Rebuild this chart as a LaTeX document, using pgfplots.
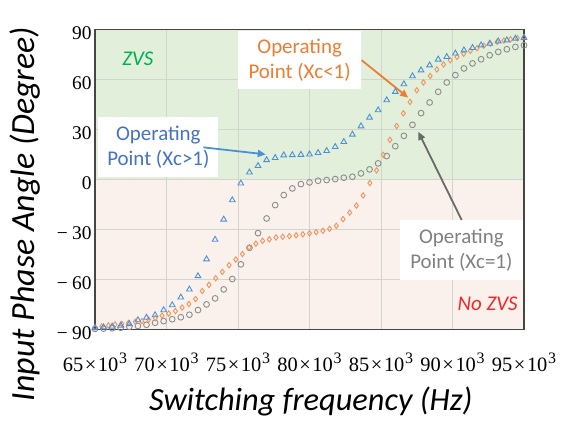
\documentclass[border=0pt]{standalone}
\usepackage{pgfplots}
\pgfplotsset{compat=1.18}
\usepackage{pgfplotstable}
\usepackage{fontspec}
\setmainfont{Carlito}
\newfontfamily\tickfont{Liberation Serif}
\usetikzlibrary{arrows.meta}

\definecolor{zvsbg}{RGB}{226,239,218}
\definecolor{nozvsbg}{RGB}{251,241,236}
\definecolor{gridc}{RGB}{208,214,203}
\definecolor{xcgt}{RGB}{74,144,217}
\definecolor{xcgttext}{RGB}{68,114,196}
\definecolor{xclt}{RGB}{241,146,90}
\definecolor{xclttext}{RGB}{237,125,49}
\definecolor{xceq}{RGB}{140,140,140}
\definecolor{xceqtext}{RGB}{128,128,128}
\definecolor{xceqarrow}{RGB}{105,105,105}
\definecolor{zvsgreen}{RGB}{0,176,80}
\definecolor{nozvsred}{RGB}{240,40,40}
\definecolor{framec}{RGB}{70,70,70}

% frequency tick label: <n>x10^3
\newcommand{\kf}[1]{#1\hspace{0.08em}×\hspace{0.08em}10\kern0.04em\raisebox{0.42em}{\fontsize{16}{16}\selectfont 3}}

% Phase angle vs switching frequency (kHz), Xc > 1
\pgfplotstableread{
f phase
65.0 -89.0
65.6 -88.6
66.2 -88.1
66.8 -87.5
67.4 -86.6
68.0 -84.3
68.6 -82.8
69.2 -81.3
69.8 -78.3
70.4 -75.3
71.0 -70.7
71.6 -65.9
72.2 -57.9
72.8 -47.8
73.4 -36.1
74.0 -24.0
74.6 -12.4
75.2 -2.4
75.8 4.2
76.4 8.1
77.0 11.6
77.6 12.9
78.2 14.5
78.8 14.6
79.4 14.8
80.0 15.0
80.6 15.9
81.2 17.1
81.8 19.5
82.4 22.5
83.0 26.9
83.6 31.9
84.2 37.1
84.8 41.5
85.4 47.5
86.0 52.5
86.6 57.1
87.2 61.9
87.8 65.4
88.4 68.4
89.0 71.9
89.6 73.4
90.2 75.5
90.8 77.4
91.4 78.8
92.0 80.4
92.6 81.4
93.2 82.8
93.8 83.4
94.4 84.4
95.0 84.8
}\xcgreater

% Xc = 1
\pgfplotstableread{
f phase
65.0 -89.6
65.6 -89.4
66.2 -89.2
66.8 -88.9
67.4 -88.3
68.0 -87.8
68.6 -87.1
69.2 -85.9
69.8 -84.9
70.4 -83.8
71.0 -82.6
71.6 -81.1
72.2 -78.3
72.8 -74.9
73.4 -71.3
74.0 -65.9
74.6 -59.7
75.2 -50.9
75.8 -41.0
76.4 -32.2
77.0 -23.4
77.6 -15.4
78.2 -9.4
78.8 -5.4
79.4 -2.8
80.0 -1.8
80.6 -0.8
81.2 -0.4
81.8 0.2
82.4 1.0
83.0 1.6
83.6 3.6
84.2 6.0
84.8 9.6
85.4 14.0
86.0 19.9
86.6 26.1
87.2 32.7
87.8 39.7
88.4 46.1
89.0 52.5
89.6 58.1
90.2 62.5
90.8 66.5
91.4 69.5
92.0 72.0
92.6 74.4
93.2 76.4
93.8 78.0
94.4 79.4
95.0 80.4
}\xcequal

% Xc < 1
\pgfplotstableread{
f phase
65.000 -88.7
65.469 -88.1
65.938 -87.5
66.406 -86.9
66.875 -86.6
67.344 -86.0
67.813 -85.3
68.281 -84.9
68.750 -84.0
69.219 -83.1
69.688 -81.6
70.156 -80.4
70.625 -78.9
71.094 -76.8
71.563 -74.7
72.031 -71.7
72.500 -66.9
72.969 -63.2
73.438 -59.2
73.906 -55.4
74.375 -51.4
74.844 -48.0
75.313 -44.7
75.781 -40.8
76.250 -38.5
76.719 -36.8
77.188 -35.9
77.656 -34.8
78.125 -34.4
78.594 -34.0
79.063 -33.5
79.531 -32.9
80.000 -32.3
80.469 -31.6
80.938 -30.8
81.406 -29.6
81.875 -27.8
82.344 -23.8
82.813 -19.9
83.281 -15.7
83.750 -9.6
84.219 -2.2
84.688 5.4
85.156 14.7
85.625 23.7
86.094 32.0
86.563 39.6
87.031 46.4
87.500 53.4
87.969 58.1
88.438 62.0
88.906 65.9
89.375 68.9
89.844 71.4
90.313 73.4
90.781 75.3
91.250 77.1
91.719 78.6
92.188 80.1
92.656 81.3
93.125 82.4
93.594 83.2
94.063 84.0
94.531 84.6
95.000 85.2
}\xcless

\begin{document}
\begin{tikzpicture}
\begin{axis}[
  set layers,
  scale only axis,
  width=429bp, height=300.4bp,
  xmin=65, xmax=95, ymin=-90, ymax=90,
  xtick={65,70,...,95},
  ytick={-90,-60,...,90},
  xticklabels={\kf{65},\kf{70},\kf{75},\kf{80},\kf{85},\kf{90},\kf{95}},
  yticklabels={−\hspace{0.22em}90,−\hspace{0.22em}60,−\hspace{0.22em}30,0,30,60,90},
  major tick length=0pt,
  tick label style={font=\tickfont\fontsize{19.5}{19.5}\selectfont, text=black},
  xticklabel style={font=\tickfont\fontsize{20.5}{20.5}\selectfont, anchor=base, yshift=-42bp},
  yticklabel style={yshift=-4bp},
  grid=major,
  major grid style={gridc, line width=0.8pt},
  axis line style={framec, line width=1.2pt},
  xlabel={Switching frequency (Hz)},
  ylabel={Input Phase Angle (Degree)},
  xlabel style={font=\itshape\fontsize{32.5}{32.5}\selectfont, text=black,
                at={(axis description cs:0.503,-0.268)}, anchor=base},
  ylabel style={font=\itshape\fontsize{34}{34}\selectfont, text=black,
                at={(axis description cs:-0.14,0.385)}, anchor=base},
  clip=false,
]
\begin{pgfonlayer}{axis background}
  \fill[zvsbg] (axis cs:65,0) rectangle (axis cs:95,90);
  \fill[nozvsbg] (axis cs:65,-90) rectangle (axis cs:95,0);
\end{pgfonlayer}

\addplot[only marks, mark=o, mark size=2.9pt, draw=xceq, mark options={line width=0.9pt}]
  table[x=f, y=phase] {\xcequal};
\addplot[only marks, mark=diamond, mark size=2.7pt, draw=xclt, mark options={line width=0.9pt}]
  table[x=f, y=phase] {\xcless};
\addplot[only marks, mark=triangle, mark size=3.3pt, draw=xcgt, mark options={line width=0.9pt}]
  table[x=f, y=phase] {\xcgreater};

\node[font=\itshape\fontsize{21}{21}\selectfont, text=zvsgreen] at (axis cs:68.0,72.0) {ZVS};
\node[font=\itshape\fontsize{21}{21}\selectfont, text=nozvsred, anchor=east] at (axis cs:94.8,-74.7) {No ZVS};

\node[fill=white, align=center, inner sep=0pt, minimum width=120bp, minimum height=60bp,
      font=\fontsize{21}{25}\selectfont, text=xcgttext] at (axis cs:69.43,19.16) {Operating\\Point (Xc>1)};
\node[fill=white, align=center, inner sep=0pt, minimum width=122.7bp, minimum height=58.8bp,
      font=\fontsize{21}{25}\selectfont, text=xclttext] at (axis cs:79.31,71.5) {Operating\\Point (Xc<1)};
\node[fill=white, align=center, inner sep=0pt, minimum width=122.7bp, minimum height=60bp,
      font=\fontsize{21}{25}\selectfont, text=xceqtext] at (axis cs:90.62,-42.3) {Operating\\Point (Xc=1)};

\draw[xcgt, line width=1.8pt, -{Triangle[length=8bp,width=7bp]}] (axis cs:72.58,19.2) -- (axis cs:76.94,15.0);
\draw[xclttext, line width=1.8pt, -{Triangle[length=8bp,width=7bp]}] (axis cs:83.65,71.4) -- (axis cs:86.9,49.0);
\draw[xceqarrow, line width=1.8pt, -{Triangle[length=8bp,width=7bp]}] (axis cs:90.64,-24.3) -- (axis cs:87.61,28.5);
\end{axis}
\pgfresetboundingbox
\path (current axis.south west) ++(-95bp,-97.4bp) rectangle ++(573bp,427bp);
\end{tikzpicture}
\end{document}
